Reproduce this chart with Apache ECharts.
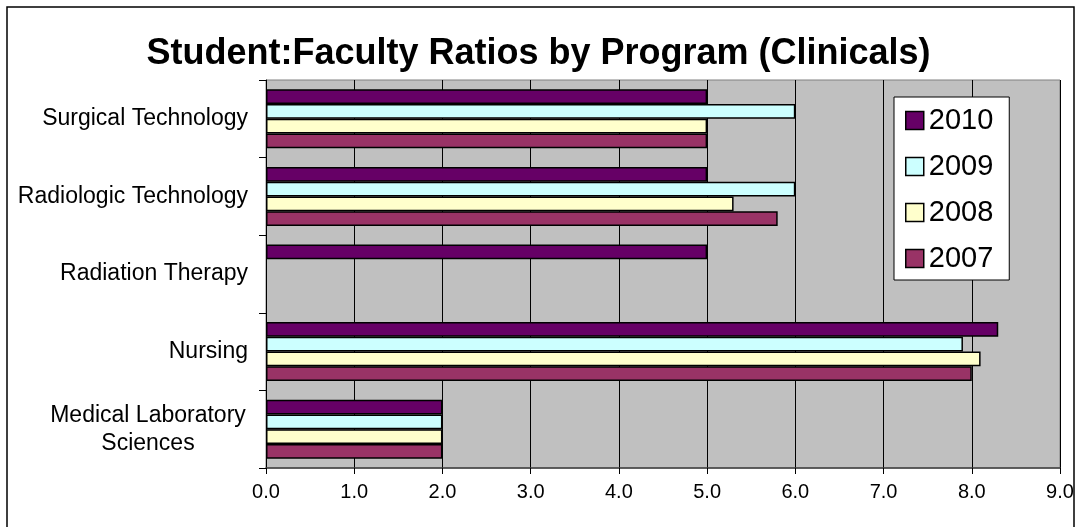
<!DOCTYPE html>
<html>
<head>
<meta charset="utf-8">
<script src="https://cdn.jsdelivr.net/npm/echarts@6/dist/echarts.min.js"></script>
<style>
  html, body { margin: 0; padding: 0; background: #fff; }
  #chart { width: 1077px; height: 527px; }
</style>
</head>
<body>
<div id="chart"></div>
<script>
// programs, bottom to top as drawn
const programs = [
  'Medical Laboratory\nSciences',
  'Nursing',
  'Radiation Therapy',
  'Radiologic Technology',
  'Surgical Technology'
]
const years = ['2010', '2009', '2008', '2007']
const ratio2007 = [2.0, 8.0, null, 5.8, 5.0]
const ratio2008 = [2.0, 8.1, null, 5.3, 5.0]
const ratio2009 = [2.0, 7.9, null, 6.0, 6.0]
const ratio2010 = [2.0, 8.3, 5.0, 5.0, 5.0]
const xTicks = [0, 1, 2, 3, 4, 5, 6, 7, 8, 9]

const colors = {
  '2010': '#660066',
  '2009': '#CCFFFF',
  '2008': '#FFFFCC',
  '2007': '#993366'
}

const myChart = echarts.init(document.getElementById('chart'))

const bar = (name, data) => ({
  name: name,
  type: 'bar',
  data: data,
  barGap: '0%',
  barCategoryGap: '24%',
  itemStyle: {
    color: colors[name],
    borderColor: '#000',
    borderWidth: 1.5
  }
})

const option = {
  backgroundColor: '#fff',
  animation: false,
  textStyle: { fontFamily: 'Arial, "Liberation Sans", sans-serif' },
  title: {
    text: 'Student:Faculty Ratios by Program (Clinicals)',
    left: 'center',
    top: 31,
    textStyle: {
      fontSize: 36,
      fontWeight: 'bold',
      color: '#000',
      fontFamily: 'Arial, "Liberation Sans", sans-serif'
    }
  },
  graphic: [
    {
      type: 'rect',
      shape: { x: 7, y: 7, width: 1067, height: 540 },
      style: { fill: 'none', stroke: '#000', lineWidth: 1.5 },
      silent: true
    }
  ],
  legend: {
    orient: 'vertical',
    left: 894,
    top: 97,
    data: years,
    icon: 'rect',
    backgroundColor: '#fff',
    borderColor: '#000',
    borderWidth: 1,
    padding: [9, 16, 7, 11],
    itemGap: 17,
    itemWidth: 18,
    itemHeight: 18,
    itemStyle: { borderColor: '#000', borderWidth: 1.5 },
    textStyle: { fontSize: 29, color: '#000' }
  },
  grid: {
    left: 266,
    right: 17,
    top: 80,
    bottom: 59,
    show: true,
    backgroundColor: '#C0C0C0',
    borderColor: '#808080',
    borderWidth: 1
  },
  xAxis: {
    type: 'value',
    min: 0,
    max: 9,
    interval: 1,
    axisLine: { show: true, lineStyle: { color: '#404040', width: 1.5 } },
    axisTick: { show: true, length: 6, lineStyle: { color: '#000' } },
    axisLabel: {
      fontSize: 20,
      color: '#000',
      margin: 14,
      formatter: v => (xTicks.includes(v) ? v.toFixed(1) : '')
    },
    splitLine: { show: true, lineStyle: { color: '#000', width: 1 } }
  },
  yAxis: {
    type: 'category',
    data: programs,
    axisLine: { show: true, lineStyle: { color: '#000', width: 1 } },
    axisTick: { show: true, length: 7, lineStyle: { color: '#000' } },
    axisLabel: {
      fontSize: 23,
      color: '#000',
      margin: 18,
      lineHeight: 28,
      formatter: v => (v.indexOf('\n') >= 0 ? '{c|' + v + '}' : v),
      rich: {
        c: { width: 200, align: 'center', fontSize: 23, lineHeight: 28, color: '#000' }
      }
    }
  },
  // first series sits at the top of each group
  series: [
    bar('2010', ratio2010),
    bar('2009', ratio2009),
    bar('2008', ratio2008),
    bar('2007', ratio2007)
  ]
}

myChart.setOption(option)
</script>
</body>
</html>
